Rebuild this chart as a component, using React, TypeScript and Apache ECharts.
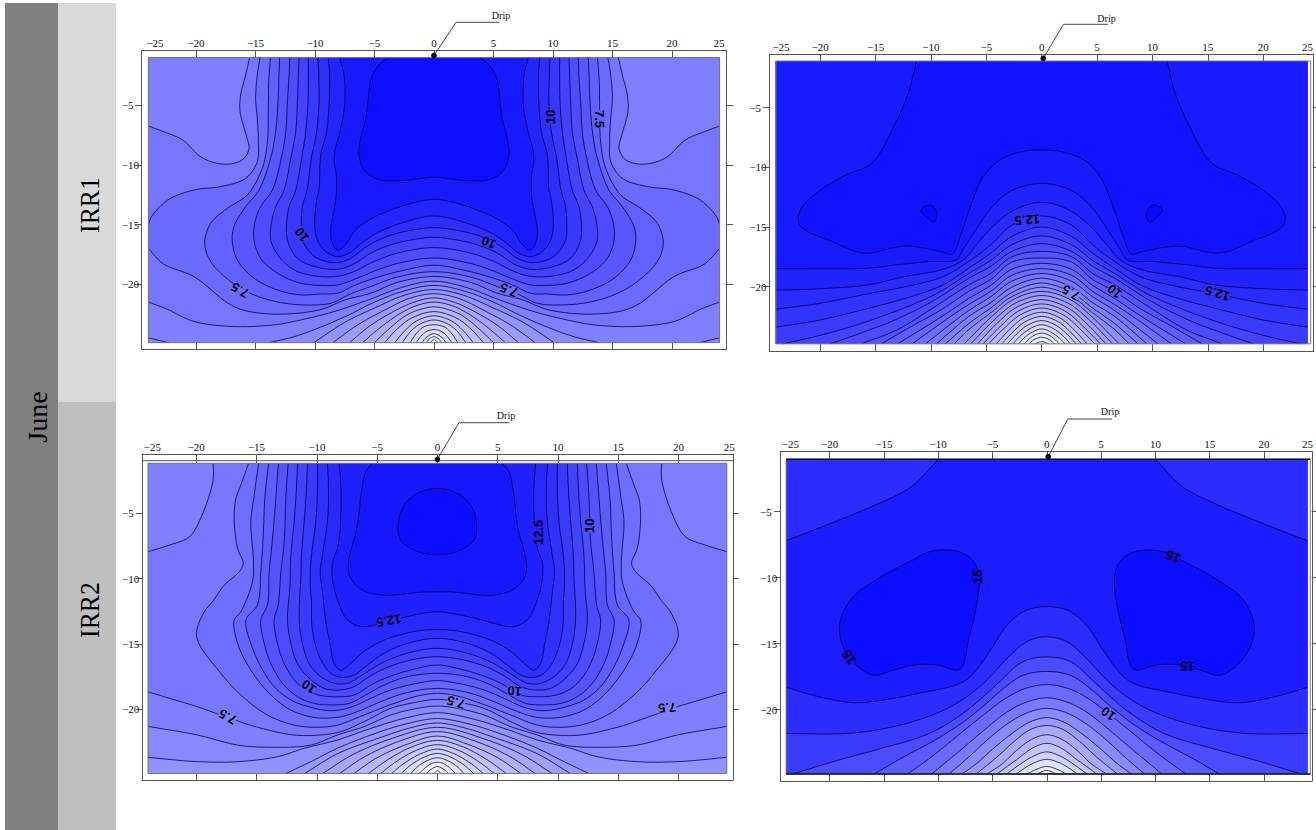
import React, { useEffect, useRef } from "react";
import * as echarts from "echarts";

type Pt = [number, number];

const X_TICKS = [-20, -15, -10, -5, 0, 5, 10, 15, 20];
const Y_TICKS = [-20, -15, -10, -5];

// Panel 1 (IRR1, left): contour half-lines, x >= 0, lightest first
const P1_LEVELS = [0.6, 1, 1.4, 1.8, 2.2, 2.6, 3, 3.4, 3.8, 4.2, 4.6, 5, 5.5, 6, 6.5, 7, 7.5, 8, 8.5, 9, 9.5, 10, 10.5, 11, 11.5];
const P1_CONTOURS: Pt[][] = [
  [[0.33, -24.9], [0, -24.65]],
  [[0.66, -24.9], [0.4, -24.6], [0, -24.4]],
  [[1, -24.9], [0.7, -24.5], [0, -24.15]],
  [[1.5, -24.9], [1.05, -24.3], [0.6, -23.95], [0, -23.8]],
  [[2, -24.9], [1.5, -24.15], [0.9, -23.6], [0, -23.4]],
  [[2.66, -24.9], [2, -24], [1.2, -23.35], [0, -23]],
  [[3.3, -24.9], [2.5, -23.95], [1.5, -23.1], [0, -22.65]],
  [[4.15, -24.9], [3.2, -23.85], [1.9, -22.85], [0, -22.3]],
  [[5, -24.9], [3.9, -23.85], [2.4, -22.65], [1.1, -22.1], [0, -21.9]],
  [[6, -24.9], [4.6, -23.7], [3, -22.55], [1.5, -21.8], [0, -21.5]],
  [[7.1, -24.9], [5.4, -23.5], [3.6, -22.4], [1.8, -21.55], [0, -21.15]],
  [[8.5, -24.9], [6.4, -23.4], [4.2, -22.2], [2.1, -21.2], [0, -20.8]],
  [[10.1, -24.9], [7.5, -23.2], [4.9, -21.95], [2.4, -20.9], [0, -20.45]],
  [[24, -24.5], [22.3, -24.9], [13.87, -24.9], [11.76, -24.4], [9.52, -23.6], [7, -22.5], [5.32, -21.65], [2.8, -20.65], [0, -20.1]],
  [[15.49, -1], [15.83, -2.47], [16.25, -4.14], [16.3, -5.54], [15.83, -7.35], [15.55, -8.61], [15.97, -9.45], [16.81, -9.87], [18.21, -9.87], [19.61, -9.31], [21.1, -7.92], [22.76, -7.2], [24, -6.74], [24, -21.5], [22.5, -22.06], [20.17, -23.13], [16.81, -23.55], [13.45, -23.41], [11.2, -23], [8.4, -22.3], [5.32, -21.25], [2.8, -20.3], [0, -19.75]],
  [[14.62, -1], [14.85, -2.47], [14.99, -4.42], [14.85, -6.1], [14.76, -8.05], [14.85, -9.73], [15.83, -11.13], [17.93, -11.82], [20.17, -12.1], [22.4, -12.96], [23.75, -14.35], [24, -15], [24, -17], [22.75, -18.3], [20.17, -19.36], [16.81, -21.88], [13.73, -22.5], [9.66, -22.16], [7.42, -21.3], [5.32, -20.76], [3.08, -19.85], [0, -19.35]],
  [[13.75, -1], [13.89, -3.02], [13.92, -5.26], [14, -8.05], [14.43, -10.29], [15.69, -12.52], [17.37, -13.64], [18.77, -14.9], [19.27, -16.57], [18.77, -18.1], [17.09, -19.78], [15.13, -20.9], [12.89, -21.54], [10.64, -21.74], [8.68, -21.6], [7, -20.81], [5.32, -20.2], [3.08, -19.4], [0, -18.95]],
  [[12.97, -1], [13.03, -2.47], [13.11, -4.7], [13.31, -7.2], [13.73, -9.45], [14.7, -12.1], [15.83, -13.5], [16.81, -15.17], [16.95, -16.43], [16.53, -17.97], [15.13, -19.5], [13.17, -20.48], [11.2, -20.9], [9.52, -20.82], [8.12, -20.76], [6.58, -20.06], [4.76, -19.42], [2.8, -18.89], [0, -18.41]],
  [[12.13, -1], [12.18, -2.47], [12.32, -4.7], [12.46, -7.2], [12.83, -9.45], [13.58, -12.1], [14.57, -13.5], [15.07, -14.9], [15.13, -16.3], [14.57, -17.83], [13.17, -19.08], [11.2, -19.92], [9.52, -20.1], [8.12, -20.06], [6.44, -19.5], [4.76, -18.8], [2.8, -18.2], [0, -17.8]],
  [[11.34, -1], [11.4, -2.47], [11.48, -4.7], [11.62, -7.2], [12.04, -9.45], [12.6, -12.1], [13.3, -13.5], [13.67, -14.9], [13.72, -16.3], [13.03, -17.69], [11.76, -18.8], [10.08, -19.3], [8.26, -19.36], [6.72, -18.94], [5.04, -18.1], [3.08, -17.4], [0, -16.93]],
  [[10.56, -1], [10.56, -2.47], [10.59, -4.7], [10.78, -7.2], [11.12, -9.45], [11.62, -12.1], [12.18, -13.5], [12.38, -14.9], [12.32, -16.3], [11.48, -17.83], [9.8, -18.58], [8.12, -18.75], [6.86, -18.38], [5.32, -17.4], [3.64, -16.7], [1.96, -16.3], [0, -16.07]],
  [[9.75, -1], [9.69, -2.47], [9.66, -4.7], [9.86, -7.2], [10.31, -9.45], [10.65, -12], [11.06, -13.5], [11.15, -14.9], [11.06, -16.3], [10.22, -17.55], [9.24, -18.05], [8.12, -18.19], [7, -17.83], [5.74, -16.9], [4.2, -16.1], [2.52, -15.6], [0, -15.26]],
  [[8.9, -1], [8.77, -2.47], [8.82, -4.98], [9.02, -7.2], [9.52, -9.17], [9.66, -12.1], [9.8, -12.66], [10.03, -14.9], [9.8, -16.3], [9.1, -17.27], [8.12, -17.69], [7.14, -17.4], [6.02, -16.5], [4.76, -15.68], [2.8, -14.9], [0, -14.28]],
  [[7.93, -1], [7.56, -2.47], [7.51, -4.98], [7.84, -6.94], [8.35, -8.89], [8.4, -9.73], [8.21, -10.85], [8.21, -12.52], [8.4, -13.78], [8.68, -15.45], [8.54, -16.57], [8.07, -17.13], [7.34, -16.57], [6.72, -15.59], [5.46, -14.61], [3.64, -13.78], [1.68, -13.16], [0, -12.88]],
  [[3.87, -1], [4.76, -1.77], [5.32, -2.9], [5.52, -4.42], [5.74, -6.1], [6.22, -8.05], [6.3, -9.17], [5.88, -10.43], [5.04, -11.07], [4.2, -11.32], [2.38, -11.29], [0, -11.04]],
];
// text, x, y, clockwise angle, band level behind it
const P1_LABELS: [string, number, number, number, number][] = [
  ["7.5", -16.3, -20.5, 210, 7],
  ["7.5", 6.3, -20.5, 203, 7],
  ["10", -11.1, -15.85, 233, 9.5],
  ["10", 4.6, -16.5, 202, 9.5],
  ["10", 9.75, -5.96, 270, 10],
  ["7.5", 13.92, -6.15, 90, 7.5],
];

// Panel 2 (IRR1, right)
const P2_LEVELS = [0.5, 1, 1.5, 2, 2.5, 3, 3.5, 4, 4.5, 5, 5.5, 6, 6.5, 7, 7.5, 8, 8.5, 9, 9.5, 10, 10.5, 11, 11.5, 12, 12.5, 13, 13.5, 14, 14.5];
const P2_CONTOURS: Pt[][] = [
  [[0, -24.6], [0.65, -24.8]],
  [[0, -24.25], [0.7, -24.45], [1.15, -24.8]],
  [[0, -23.9], [0.8, -24.15], [1.6, -24.8]],
  [[0, -23.55], [1, -23.9], [1.7, -24.4], [2.1, -24.8]],
  [[0, -23.2], [1.1, -23.55], [2, -24.2], [2.6, -24.8]],
  [[0, -22.85], [1.3, -23.25], [2.3, -24], [3.1, -24.8]],
  [[0, -22.5], [1.5, -22.95], [2.7, -23.9], [3.6, -24.8]],
  [[0, -22.15], [1.7, -22.65], [3, -23.7], [4.1, -24.8]],
  [[0, -21.8], [1.9, -22.35], [3.4, -23.5], [4.8, -24.8]],
  [[0, -21.45], [2.1, -22.05], [3.7, -23.3], [5.3, -24.8]],
  [[0, -21.1], [2.3, -21.75], [4, -23.05], [5.8, -24.8]],
  [[0, -20.75], [2.4, -21.4], [4.3, -22.8], [6.4, -24.8]],
  [[0, -20.4], [2.5, -21.05], [4.5, -22.5], [7, -24.8]],
  [[0, -20.05], [2.7, -20.85], [4.6, -22.2], [6.58, -23.6], [7.9, -24.8]],
  [[0, -19.7], [2.7, -20.5], [4.6, -21.8], [6.58, -23.1], [8.7, -24.8]],
  [[0, -19.3], [2.7, -20.05], [4.6, -21.35], [6.58, -22.5], [9.5, -24.8]],
  [[0, -18.9], [2.7, -19.55], [4.6, -20.85], [6.58, -22], [10.5, -24.8]],
  [[0, -18.5], [2.7, -19.05], [4.6, -20.4], [6.58, -21.5], [9, -23], [11.7, -24.8]],
  [[0, -18.05], [2.7, -18.55], [4.6, -19.9], [6.58, -21], [9, -22.5], [13, -24.8]],
  [[0, -17.6], [2.7, -17.95], [4.6, -19.4], [6.58, -20.4], [9, -21.9], [11.5, -23.2], [14.5, -24.8]],
  [[0, -17.05], [2.7, -17.5], [4.6, -18.9], [6.58, -19.86], [10, -21.9], [13, -23.6], [16.3, -24.8]],
  [[0, -16.4], [2.7, -17.05], [4.6, -18.3], [6.58, -19.3], [10, -21.3], [13.5, -22.9], [16.5, -23.95], [19.1, -24.8]],
  [[0, -15.75], [2.7, -16.5], [4.6, -17.8], [6.58, -18.9], [9.5, -20.6], [13, -22], [17, -23.3], [20.5, -24.2], [23.4, -24.8]],
  [[0, -15], [2.7, -15.8], [4.6, -17.2], [6.58, -18.46], [9, -19.9], [12, -20.9], [16, -21.9], [20, -22.8], [24, -23.4]],
  [[0, -14.08], [2.7, -14.85], [4.6, -16.5], [6.58, -17.9], [9, -19.2], [12, -19.95], [15.7, -20.6], [20, -21.4], [24, -21.9]],
  [[0, -12.93], [2.48, -13.58], [4.46, -15], [5.78, -16.37], [7.1, -17.77], [9.08, -18.6], [12.38, -19.16], [15.68, -19.86], [20.6, -20.2], [24, -20.3]],
  [[0, -11.34], [2.8, -12], [4.46, -13.3], [5.78, -15], [7.1, -16.9], [7.76, -17.77], [10.07, -17.9], [13.37, -18.2], [15.68, -18.46], [24, -18.5]],
  [[11.32, -1.09], [12.05, -3.8], [13.37, -6.6], [15.35, -9.66], [17.66, -10.64], [19.97, -11.9], [21.6, -13.3], [22, -14.4], [21.6, -15.1], [19, -16.2], [16, -17.2], [12.38, -16.6], [9.08, -17.07], [8.09, -17.3], [7.26, -15.53], [6.44, -13.3], [5.28, -10.78], [3.8, -9.39], [1.8, -8.69], [0, -8.55]],
  [[10.17, -13.16], [10.89, -13.58], [10.32, -14.27], [9.72, -14.55], [9.46, -14], [9.63, -13.44]],
];
const P2_LABELS: [string, number, number, number, number][] = [
  ["12.5", -1.3, -14.4, 176, 12],
  ["12.5", 15.86, -20.56, 197, 12],
  ["10", 6.58, -20.4, 220, 9.5],
  ["7.5", 2.63, -20.5, 210, 7],
];

// Panel 3 (IRR2, left)
const P3_LEVELS = [0.3, 0.8, 1.3, 1.8, 2.3, 2.8, 3.3, 3.8, 4.3, 4.8, 5.2, 5.6, 6, 6.5, 7, 7.5, 8, 8.5, 9, 9.5, 10, 10.5, 11, 11.5, 12, 12.5, 13, 13.5];
const P3_CONTOURS: Pt[][] = [
  [[0.3, -24.9], [0, -24.7]],
  [[0.9, -24.9], [0.55, -24.6], [0, -24.37]],
  [[1.5, -24.9], [1, -24.45], [0.5, -24.15], [0, -24.04]],
  [[2.2, -24.9], [1.6, -24.35], [0.8, -23.9], [0, -23.7]],
  [[3, -24.9], [2.2, -24.25], [1.1, -23.65], [0, -23.37]],
  [[3.8, -24.9], [2.8, -24.15], [1.4, -23.4], [0, -23.04]],
  [[4.7, -24.9], [3.5, -24.05], [1.8, -23.15], [0, -22.7]],
  [[5.7, -24.9], [4.2, -23.9], [2.2, -22.9], [0, -22.37]],
  [[6.9, -24.9], [5.1, -23.75], [2.6, -22.7], [0, -22.04]],
  [[8.1, -24.9], [6, -23.6], [3.2, -22.45], [0, -21.7]],
  [[9.5, -24.9], [7, -23.45], [3.7, -22.2], [0, -21.37]],
  [[11, -24.9], [8.3, -23.4], [4.4, -22.05], [2.2, -21.4], [0, -21.04]],
  [[12.56, -24.9], [10.5, -24], [8.29, -22.98], [5.52, -21.96], [2.76, -21.15], [0, -20.7]],
  [[24, -23.67], [19.89, -24], [16.57, -24], [13.26, -23.62], [11.05, -22.98], [8.29, -22.34], [5.52, -21.45], [2.76, -20.69], [0, -20.25]],
  [[24, -21.3], [19.89, -21.96], [16.57, -22.73], [13.81, -22.9], [10.5, -22.73], [8.29, -21.96], [6.08, -21.32], [3.87, -20.43], [1.66, -19.92], [0, -19.74]],
  [[18.6, -1.17], [18.6, -2.45], [19.57, -5.26], [20.56, -6.79], [22.2, -7.42], [24, -7.93], [24, -18.65], [22.2, -19.16], [19.9, -19.8], [17.96, -20.43], [14.92, -21.37], [11.88, -21.96], [9.67, -21.96], [8, -21.7], [6.08, -20.94], [3.87, -19.92], [1.52, -19.41], [0, -19.23]],
  [[15.66, -1.17], [16.3, -2.84], [16.71, -3.86], [16.85, -5.39], [16.57, -7.68], [16.1, -8.83], [16.44, -9.47], [17.68, -10.5], [18.6, -11.7], [19.4, -12.65], [19.97, -14.44], [17.96, -17.24], [16.3, -18.9], [14.09, -20.43], [11.88, -21.2], [9.94, -21.37], [8.29, -21.2], [6.08, -20.43], [3.59, -19.54], [1.66, -18.98], [0, -18.77]],
  [[14.83, -1.17], [15.19, -3.6], [15.47, -5.64], [15.25, -8.7], [15.33, -10.23], [16.3, -12.53], [16.85, -13.16], [16.57, -14.95], [15.47, -16.99], [13.81, -18.9], [12.15, -20.05], [10.22, -20.61], [8.29, -20.61], [6.63, -20.17], [4.7, -19.41], [2.76, -18.77], [0, -18.39]],
  [[14, -1.17], [14.31, -3.86], [14.45, -6.92], [14.64, -9.47], [14.92, -12], [15.88, -13.16], [15.47, -14.95], [14.64, -16.73], [13.54, -18.26], [12.15, -19.28], [10.5, -19.84], [8.84, -20.1], [7.18, -19.84], [5.52, -19.15], [3.87, -18.52], [1.66, -18], [0, -17.8]],
  [[13.18, -1.17], [13.4, -3.86], [13.67, -6.92], [13.95, -9.47], [14.09, -12], [14.64, -13.16], [14.36, -14.95], [13.81, -16.5], [12.85, -18], [11.6, -19.03], [10.22, -19.54], [8.84, -19.66], [7.32, -19.54], [5.94, -18.9], [4.42, -18.13], [2.49, -17.5], [0, -17.24]],
  [[12.38, -1.17], [12.57, -3.86], [12.7, -7.17], [12.98, -9.47], [13.2, -12], [13.54, -13.16], [13.26, -14.95], [12.7, -16.5], [11.74, -17.88], [10.64, -18.64], [9.39, -18.98], [8.15, -19.03], [6.9, -18.9], [5.25, -18], [3.6, -17.37], [1.66, -16.86], [0, -16.6]],
  [[11.6, -1.17], [11.69, -3.09], [11.88, -5.64], [12.15, -8.19], [12.24, -10.74], [12.43, -13.16], [12.15, -14.95], [11.6, -16.5], [10.64, -17.6], [9.39, -18.39], [8.15, -18.52], [6.9, -18.26], [5.66, -17.5], [4, -16.73], [1.93, -16.17], [0, -15.97]],
  [[10.77, -1.17], [10.86, -3.09], [11.05, -5.64], [11.27, -8.19], [11.33, -9.98], [11.46, -13.16], [11.19, -14.95], [10.64, -16.5], [9.67, -17.5], [8.56, -18], [7.46, -18], [6.22, -17.37], [4.7, -16.5], [2.49, -15.7], [0, -15.33]],
  [[9.94, -1.17], [9.94, -3.09], [10.08, -5.64], [10.44, -8.19], [10.55, -9.98], [10.44, -12], [10.44, -13.16], [10.22, -14.7], [9.67, -16.2], [8.84, -17.24], [7.87, -17.55], [6.9, -17.37], [5.8, -16.6], [4.42, -15.7], [2.49, -14.95], [0, -14.56]],
  [[9.12, -1.17], [9.03, -3.09], [9.12, -5.64], [9.53, -8.19], [9.72, -9.47], [9.53, -11], [9.25, -13.3], [8.9, -14.95], [8.56, -16.5], [8, -16.99], [7.04, -16.35], [5.94, -15.46], [4.14, -14.6], [1.66, -14], [0, -13.9]],
  [[8.15, -1.17], [8.01, -2.84], [8.01, -5.13], [8.23, -7.43], [8.73, -8.96], [8.6, -10.6], [7.95, -12.4], [7.44, -13.16], [6.3, -13.67], [3.18, -13.04], [0, -12.53]],
  [[5.39, -1.17], [5.94, -1.82], [6.3, -3.35], [6.63, -5.9], [7.4, -8.96], [7.18, -9.98], [6.22, -10.87], [4.7, -11.25], [3.59, -11.25], [1.66, -11.05], [0, -11]],
  [[0, -3.09], [1.66, -3.47], [2.76, -4.37], [3.26, -5.9], [3.04, -7.05], [1.93, -7.81], [0.83, -8.12], [0, -8.14]],
];
const P3_LABELS: [string, number, number, number, number][] = [
  ["12.5", 8.37, -6.46, 270, 12.5],
  ["10", 12.65, -5.95, 270, 10],
  ["12.5", -4.03, -13.2, 170, 12],
  ["10", -10.66, -18.27, 215, 9.5],
  ["10", 6.4, -18.6, 185, 9.5],
  ["7.5", 1.54, -19.45, 197, 7],
  ["7.5", -17.4, -20.56, 210, 7],
  ["7.5", 19.06, -19.87, 175, 7],
];

// Panel 4 (IRR2, right)
const P4_LEVELS = [0.6, 1.5, 2.4, 3.3, 4.2, 5, 6, 7, 8, 9, 10, 11, 12, 13, 14, 15];
const P4_CONTOURS: Pt[][] = [
  [[0, -24.6], [0.9, -24.87]],
  [[0, -24.3], [0.9, -24.5], [1.8, -24.87]],
  [[0, -23.76], [1.1, -24], [2, -24.4], [2.8, -24.87]],
  [[0, -23.2], [1.2, -23.5], [2.4, -24.1], [3.7, -24.87]],
  [[0, -22.55], [1.3, -22.9], [2.8, -23.8], [4.6, -24.87]],
  [[0, -21.9], [1.4, -22.25], [2.8, -23.1], [4.1, -24.1], [5.5, -24.87]],
  [[0, -21.2], [1.5, -21.5], [3, -22.4], [4.6, -23.6], [6.5, -24.87]],
  [[0, -20.6], [1.6, -20.95], [3.2, -21.8], [5, -23], [6.5, -24.1], [7.8, -24.87]],
  [[0, -19.9], [1.7, -20.2], [3.5, -21], [5.5, -22.3], [7.2, -23.6], [9, -24.87]],
  [[0, -19.1], [1.8, -19.4], [3.7, -20.2], [5.7, -21.5], [8, -23.1], [10.6, -24.87]],
  [[0, -18.1], [2, -18.4], [3.9, -19.2], [5.67, -20.3], [7.8, -21.7], [10.5, -23.5], [12.8, -24.87]],
  [[0, -17.1], [2.2, -17.4], [4, -18.4], [5.8, -19.7], [7.8, -21], [10.5, -22.4], [13, -23.5], [15.9, -24.87]],
  [[0, -16], [2.2, -16.36], [4.18, -17.75], [5.83, -19], [7.5, -20.15], [10.8, -21.8], [15.78, -23.05], [19.1, -23.8], [23.4, -24.87]],
  [[0, -14.47], [1.86, -14.85], [3.51, -16], [5.83, -18], [7.82, -19.27], [10.14, -20.27], [14.12, -21.29], [18.43, -21.8], [24, -21.8]],
  [[9.98, -1.03], [12.46, -3.1], [15.1, -4.24], [19.1, -5.63], [24, -7.2], [24, -18.3], [21.08, -19], [17.77, -19.47], [15.11, -19.27], [11.8, -18.76], [7.82, -17.95], [6.5, -17], [5.17, -15.48], [3.51, -13.46], [1.86, -12.45], [0, -12.2]],
  [[8.32, -7.98], [10.8, -8.03], [12.46, -8.71], [15.78, -10.18], [18.1, -11.7], [19.1, -13.7], [18.43, -15.73], [16.1, -17.37], [14.1, -17], [12.1, -16.6], [10.14, -16.6], [8, -16.94], [7.15, -14.47], [6.5, -12.2], [6.23, -9.92], [6.83, -8.66]],
];
const P4_LABELS: [string, number, number, number, number][] = [
  ["15", -6.36, -9.92, 270, 15],
  ["15", 11.63, -8.4, 201, 15],
  ["15", 12.96, -16.7, 183, 15],
  ["15", -18.2, -16, 240, 15],
  ["10", 5.67, -20.3, 215, 9],
];

const PANELS = [
  { frame: [141.7, 50.7, 726.5, 349.3], x0: 434, sx: 11.9, y0: 45.6, sy: 11.93, T: -1, B: -24.9, X: 24, vmax: 12.5, half: 0.25, base: 0, ends: [-23.45, 23.95], levels: P1_LEVELS, contours: P1_CONTOURS, labels: P1_LABELS, drip: [[434, 55.5], [456, 22.3], [499.5, 22.3]], dripText: [501, 15] },
  { frame: [769.4, 54, 1316, 351.7], x0: 1043.3, sx: 11.14, y0: 48, sy: 11.93, T: -1.09, B: -24.8, X: 24, vmax: 15.3, half: 0.25, base: 0, ends: [-23.55, 24], levels: P2_LEVELS, contours: P2_CONTOURS, labels: P2_LABELS, drip: [[1043.3, 58.3], [1063.5, 24.3], [1108, 24.3]], dripText: [1106.5, 18] },
  { frame: [142, 454, 733, 780], x0: 437.4, sx: 12.06, y0: 448, sy: 13.07, T: -1.17, B: -24.9, X: 24, vmax: 14.5, half: 0.25, base: 0, ends: [-23.63, 24.2], levels: P3_LEVELS, contours: P3_CONTOURS, labels: P3_LABELS, drip: [[437.4, 459.3], [459, 422.7], [509.3, 422.7]], dripText: [506, 415], innerTop: 460.7 },
  { frame: [780, 451.7, 1314.6, 781], x0: 1048.2, sx: 10.92, y0: 445.7, sy: 13.2, T: -1.03, B: -24.87, X: 24, vmax: 16.3, half: 0.5, base: -0.4, ends: [-23.6, 24], levels: P4_LEVELS, contours: P4_CONTOURS, labels: P4_LABELS, drip: [[1048.2, 456.7], [1067.8, 419], [1112, 419]], dripText: [1110, 411.7], blackEdges: true },
];

const FRAME_COLOR = "#555555";
const TICK_FONT = "Liberation Serif";
const LINE_COLOR = "rgba(0,0,45,0.85)";

function bandColor(level: number, p: any) {
  const r = Math.max(0, Math.min(255, Math.round(255 * (1 - (level + p.half) / p.vmax))));
  return `rgb(${r},${r},255)`;
}

// Turn a half contour (x >= 0) into whole rings that follow the plot edge where needed
function buildRings(line: Pt[], p: any): { pts: Pt[]; closed: boolean }[] {
  const { T, B, X } = p;
  let half = line.slice();
  const first = half[0];
  const last = half[half.length - 1];
  const onEdge = (q: Pt) => q[1] === T || q[1] === B || q[0] === X;
  if (first[0] !== 0 && !onEdge(first)) {
    const mir = half.map((q) => [-q[0], q[1]] as Pt).reverse();
    return [{ pts: half, closed: true }, { pts: mir, closed: true }];
  }
  if (first[0] === 0 && last[0] === 0) {
    const mir = half.slice(1, -1).map((q) => [-q[0], q[1]] as Pt).reverse();
    return [{ pts: half.concat(mir), closed: true }];
  }
  if (first[0] === 0) half = half.reverse();
  const s = half[0];
  const prefix: Pt[] = [[0, T]];
  if (s[1] !== T) prefix.push([X, T]);
  if (s[1] === B && s[0] !== X) prefix.push([X, B]);
  const right = prefix.concat(half);
  const left = right.slice(1, -1).map((q) => [-q[0], q[1]] as Pt).reverse();
  return [{ pts: right.concat(left), closed: false }];
}

function catmull(p0: number[], p1: number[], p2: number[], p3: number[], out: number[][]) {
  const d = (a: number[], b: number[]) => Math.max(1e-3, Math.sqrt(Math.hypot(a[0] - b[0], a[1] - b[1])));
  const t1 = d(p0, p1);
  const t2 = t1 + d(p1, p2);
  const t3 = t2 + d(p2, p3);
  const lerp = (a: number[], b: number[], ta: number, tb: number, t: number) => {
    const w = (t - ta) / (tb - ta);
    return [a[0] + (b[0] - a[0]) * w, a[1] + (b[1] - a[1]) * w];
  };
  const n = 6;
  for (let k = 1; k <= n; k++) {
    const t = t1 + ((t2 - t1) * k) / n;
    const a1 = lerp(p0, p1, 0, t1, t);
    const a2 = lerp(p1, p2, t1, t2, t);
    const a3 = lerp(p2, p3, t2, t3, t);
    const b1 = lerp(a1, a2, 0, t2, t);
    const b2 = lerp(a2, a3, t1, t3, t);
    out.push(lerp(b1, b2, t1, t2, t));
  }
}

function smoothRun(run: number[][], closed: boolean) {
  const n = run.length;
  if (n < 3 && !closed) return run;
  const out: number[][] = [run[0]];
  const get = (i: number) => {
    if (closed) return run[(i + n) % n];
    if (i < 0) return [2 * run[0][0] - run[1][0], 2 * run[0][1] - run[1][1]];
    if (i >= n) return [2 * run[n - 1][0] - run[n - 2][0], 2 * run[n - 1][1] - run[n - 2][1]];
    return run[i];
  };
  const segs = closed ? n : n - 1;
  for (let i = 0; i < segs; i++) catmull(get(i - 1), get(i), get(i + 1), get(i + 2), out);
  return out;
}

function ringPaths(ring: { pts: Pt[]; closed: boolean }, p: any, api: any) {
  const { T, B, X } = p;
  const px = (q: Pt) => api.coord(q) as number[];
  const minP = api.coord([-X, T]);
  const maxP = api.coord([X, B]);
  const clampP = (q: number[]) => [Math.min(maxP[0], Math.max(minP[0], q[0])), Math.min(maxP[1], Math.max(minP[1], q[1]))];
  const fmt = (arr: number[][]) => arr.map((q, i) => `${i ? "L" : "M"}${q[0].toFixed(1)} ${q[1].toFixed(1)}`).join("");
  if (ring.closed) {
    const s = smoothRun(ring.pts.map(px), true).map(clampP);
    const d = fmt(s) + "Z";
    return { fill: d, stroke: d };
  }
  const sameEdge = (a: Pt, b: Pt) =>
    (a[1] === T && b[1] === T) || (a[1] === B && b[1] === B) || (a[0] === X && b[0] === X) || (a[0] === -X && b[0] === -X);
  const pts = ring.pts;
  const all: number[][] = [];
  let stroke = "";
  let run: number[][] = [];
  const flush = () => {
    if (run.length > 1) {
      const s = smoothRun(run, false).map(clampP);
      stroke += fmt(s);
      all.push(...s);
    } else if (run.length === 1) {
      all.push(run[0]);
    }
    run = [];
  };
  for (let i = 0; i < pts.length; i++) {
    const a = pts[i];
    const b = pts[(i + 1) % pts.length];
    run.push(px(a));
    if (sameEdge(a, b)) {
      flush();
    }
  }
  flush();
  return { fill: fmt(all) + "Z", stroke };
}

function panelSeries(p: any, i: number) {
  const rings: { pts: Pt[]; closed: boolean; level: number }[] = [];
  const { T, B, X } = p;
  rings.push({ pts: [[-X, T], [X, T], [X, B], [-X, B]], closed: false, level: p.base });
  p.contours.forEach((c: Pt[], k: number) => {
    buildRings(c, p).forEach((r) => rings.push({ ...r, level: p.levels[k] }));
  });
  const fillSeries = {
    type: "custom",
    name: `contours-${i}`,
    xAxisIndex: i * 2,
    yAxisIndex: i * 2,
    silent: true,
    clip: true,
    data: rings.map((r) => r.pts[0]),
    renderItem: (params: any, api: any) => {
      const r = rings[params.dataIndex];
      const { fill, stroke } = ringPaths(r, p, api);
      const color = bandColor(r.level, p);
      const children: any[] = [{ type: "path", shape: { pathData: fill }, style: { fill: color, stroke: null } }];
      if (stroke) children.push({ type: "path", shape: { pathData: stroke }, style: { fill: "none", stroke: LINE_COLOR, lineWidth: 0.9 } });
      return { type: "group", children };
    },
  };
  const labelSeries = {
    type: "custom",
    name: `labels-${i}`,
    xAxisIndex: i * 2,
    yAxisIndex: i * 2,
    silent: true,
    clip: true,
    z: 5,
    data: p.labels.map((l: any) => [l[1], l[2]]),
    renderItem: (params: any, api: any) => {
      const l = p.labels[params.dataIndex];
      const c = api.coord([l[1], l[2]]);
      return {
        type: "text",
        x: c[0],
        y: c[1],
        rotation: (-l[3] * Math.PI) / 180,
        style: {
          text: l[0],
          fill: "#000",
          font: 'bold 13px "Liberation Sans"',
          align: "center",
          verticalAlign: "middle",
          lineHeight: 10,
          backgroundColor: bandColor(l[4], p),
        },
      };
    },
  };
  return [fillSeries, labelSeries];
}

function axisRange(p: any) {
  const [l, t, r, b] = p.frame;
  return {
    xMin: (l - p.x0) / p.sx,
    xMax: (r - p.x0) / p.sx,
    yMax: -(t - p.y0) / p.sy,
    yMin: -(b - p.y0) / p.sy,
  };
}

function tickLabel(v: number) {
  if (v < -22) return "\u221225";
  if (v > 22) return "25";
  const n = Math.round(v);
  return n < 0 ? `\u2212${-n}` : `${n}`;
}

function buildOption() {
  const grid: any[] = [];
  const xAxis: any[] = [];
  const yAxis: any[] = [];
  const series: any[] = [];
  const graphic: any[] = [
    { type: "rect", shape: { x: 5, y: 3, width: 53, height: 827 }, style: { fill: "#808080" } },
    { type: "rect", shape: { x: 58, y: 3, width: 58, height: 399 }, style: { fill: "#d9d9d9" } },
    { type: "rect", shape: { x: 58, y: 402, width: 58, height: 428 }, style: { fill: "#bfbfbf" } },
    { type: "text", x: 37, y: 417, rotation: Math.PI / 2, style: { text: "June", font: '28px "Liberation Serif"', fill: "#000", align: "center", verticalAlign: "middle" } },
    { type: "text", x: 90, y: 205, rotation: Math.PI / 2, scaleX: 0.92, style: { text: "IRR1", font: '28px "Liberation Serif"', fill: "#000", align: "center", verticalAlign: "middle" } },
    { type: "text", x: 90, y: 610, rotation: Math.PI / 2, scaleX: 0.92, style: { text: "IRR2", font: '28px "Liberation Serif"', fill: "#000", align: "center", verticalAlign: "middle" } },
  ];
  PANELS.forEach((p: any, i: number) => {
    const [l, t, r, b] = p.frame;
    const rg = axisRange(p);
    const gapX = (p.X + rg.xMin) * p.sx;
    const gapTop = (rg.yMax - p.T) * p.sy;
    const gapBottom = (p.B - rg.yMin) * p.sy;
    grid.push({ left: l, top: t, width: r - l, height: b - t, containLabel: false });
    const line = { show: true, onZero: false, lineStyle: { color: FRAME_COLOR, width: 1 } };
    const labelStyle = { fontFamily: TICK_FONT, fontSize: 11, color: "#111" };
    xAxis.push({
      type: "value", gridIndex: i, position: "top", min: rg.xMin, max: rg.xMax, splitLine: { show: false }, axisLine: line,
      axisTick: { inside: true, length: gapTop, customValues: X_TICKS, lineStyle: { color: FRAME_COLOR } },
      axisLabel: { ...labelStyle, margin: 2, customValues: [p.ends[0], ...X_TICKS, p.ends[1]], formatter: tickLabel },
    });
    xAxis.push({
      type: "value", gridIndex: i, position: "bottom", min: rg.xMin, max: rg.xMax, splitLine: { show: false }, axisLine: line,
      axisTick: { inside: true, length: gapBottom, customValues: X_TICKS, lineStyle: { color: FRAME_COLOR } },
      axisLabel: { show: false },
    });
    yAxis.push({
      type: "value", gridIndex: i, position: "left", min: rg.yMin, max: rg.yMax, splitLine: { show: false }, axisLine: line,
      axisTick: { inside: true, length: gapX, customValues: Y_TICKS, lineStyle: { color: FRAME_COLOR } },
      axisLabel: { ...labelStyle, margin: 20, align: "left", customValues: Y_TICKS, formatter: tickLabel },
    });
    yAxis.push({
      type: "value", gridIndex: i, position: "right", min: rg.yMin, max: rg.yMax, splitLine: { show: false }, axisLine: line,
      axisTick: { inside: true, length: gapX, customValues: Y_TICKS, lineStyle: { color: FRAME_COLOR } },
      axisLabel: { show: false },
    });
    series.push(...panelSeries(p, i));

    const fx0 = p.x0 - p.X * p.sx;
    const fx1 = p.x0 + p.X * p.sx;
    const fy0 = p.y0 - p.T * p.sy;
    const fy1 = p.y0 - p.B * p.sy;
    graphic.push({ type: "rect", z: 50, shape: { x: fx0, y: fy0, width: fx1 - fx0, height: fy1 - fy0 }, style: { fill: "none", stroke: "#777", lineWidth: 1 } });
    if (p.blackEdges) {
      graphic.push({ type: "line", z: 51, shape: { x1: fx0, y1: fy0, x2: fx1, y2: fy0 }, style: { stroke: "#111", lineWidth: 1.4 } });
      graphic.push({ type: "line", z: 51, shape: { x1: fx0, y1: fy1, x2: fx1, y2: fy1 }, style: { stroke: "#111", lineWidth: 1.4 } });
    }
    if (p.innerTop) {
      graphic.push({ type: "line", z: 51, shape: { x1: l, y1: p.innerTop, x2: r, y2: p.innerTop }, style: { stroke: FRAME_COLOR, lineWidth: 1 } });
    }
    graphic.push({ type: "polyline", z: 60, shape: { points: p.drip }, style: { fill: "none", stroke: "#444", lineWidth: 1 } });
    graphic.push({ type: "circle", z: 61, shape: { cx: p.drip[0][0], cy: p.drip[0][1], r: 2.8 }, style: { fill: "#000" } });
    graphic.push({ type: "text", z: 61, x: p.dripText[0], y: p.dripText[1], style: { text: "Drip", font: '10px "Liberation Serif"', fill: "#111", align: "center", verticalAlign: "middle" } });
  });
  return { animation: false, backgroundColor: "#fff", grid, xAxis, yAxis, series, graphic };
}

export default function App() {
  const ref = useRef<HTMLDivElement>(null);
  useEffect(() => {
    const chart = echarts.init(ref.current!, undefined, { renderer: "svg" });
    chart.setOption(buildOption() as any);
    return () => chart.dispose();
  }, []);
  return <div ref={ref} style={{ position: "fixed", left: 0, top: 0, width: 1316, height: 830 }} />;
}
